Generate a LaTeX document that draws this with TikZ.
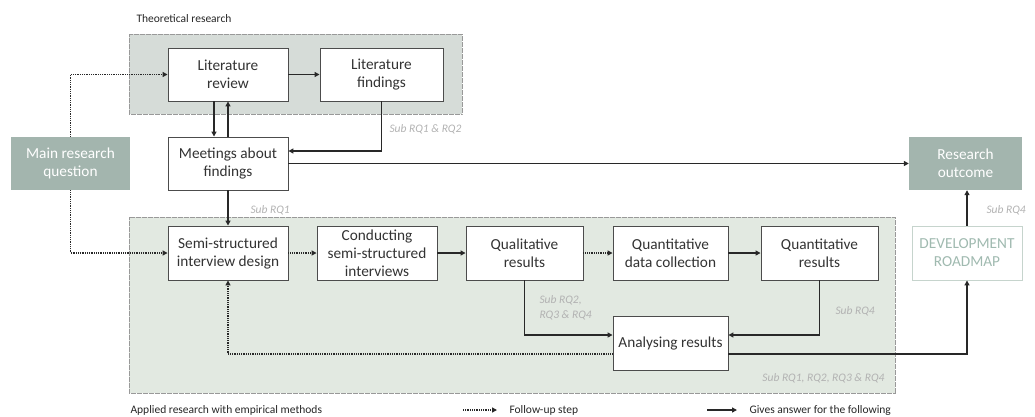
\documentclass[tikz,border=0pt]{standalone}
\usepackage{fontspec}
\setmainfont{Carlito}
\usetikzlibrary{arrows.meta,positioning}

\definecolor{theoryFill}{RGB}{214,220,216}
\definecolor{appliedFill}{RGB}{226,233,225}
\definecolor{mainFill}{RGB}{163,181,174}
\definecolor{roadLine}{RGB}{198,212,205}
\definecolor{roadText}{RGB}{160,186,176}
\definecolor{noteGray}{RGB}{178,178,178}
\definecolor{lineDark}{RGB}{40,40,40}

\begin{document}
\begin{tikzpicture}[
        x=1pt, y=-1pt,
        stepbox/.style={draw=black!70, line width=0.9pt, fill=white, align=center,
            font=\fontsize{15.3}{18}\selectfont, text=black!80, inner sep=0pt},
        mainbox/.style={fill=mainFill, align=center, text=white,
            font=\fontsize{15.3}{18}\selectfont, inner sep=0pt},
        roadbox/.style={draw=roadLine, line width=0.9pt, fill=white, align=center, text=roadText,
            font=\fontsize{15.3}{18}\selectfont, inner sep=0pt},
        region/.style={draw=black!40, dash pattern=on 0.6pt off 0.6pt, line width=0.6pt},
        note/.style={font=\fontsize{11.5}{15}\selectfont\itshape, text=noteGray, align=left},
        caption/.style={font=\fontsize{11.5}{14}\selectfont, text=black!85},
        answer/.style={draw=lineDark, line width=1.4pt, -{Triangle[length=5pt,width=5pt]}},
        follow/.style={draw=lineDark, line width=1.3pt, dash pattern=on 0.9pt off 0.9pt,
            -{Triangle[length=5pt,width=5pt]}}
    ]

    \useasboundingbox (0,0) rectangle (1035,416);

    % research areas
    \fill[theoryFill] (129,34) rectangle (462,114);
    \draw[region] (129,34) rectangle (462,114);
    \fill[appliedFill] (129,217) rectangle (895,393);
    \draw[region] (129,217) rectangle (895,393);
    \node[caption, anchor=west] (theoryCap) at (133,19) {Theoretical research};
    \node[caption, anchor=west] (appliedCap) at (127,410) {Applied research with empirical methods};

    % theoretical part
    \node[stepbox, minimum width=120pt, minimum height=53pt] (litReview) at (228,74.5) {Literature\\review};
    \node[stepbox, minimum width=123pt, minimum height=53pt] (litFind) at (381.5,74.5) {Literature\\findings};
    \node[stepbox, minimum width=120pt, minimum height=53pt] (meetings) at (228,163.5) {Meetings about\\findings};
    \node[mainbox, minimum width=119pt, minimum height=53pt] (mainRQ) at (70.5,163.5) {Main research\\question};
    \node[mainbox, minimum width=113pt, minimum height=53pt] (resOut) at (965.5,163.5) {Research\\outcome};

    % empirical part
    \node[stepbox, minimum width=120pt, minimum height=54pt] (semiDesign) at (228,253) {Semi-structured\\interview design};
    \node[stepbox, minimum width=120pt, minimum height=54pt] (conducting) at (377,253) {Conducting\\semi-structured\\interviews};
    \node[stepbox, minimum width=117pt, minimum height=54pt] (qualRes) at (524.5,253) {Qualitative\\results};
    \node[stepbox, minimum width=115pt, minimum height=54pt] (quantData) at (670.5,253) {Quantitative\\data collection};
    \node[stepbox, minimum width=117pt, minimum height=54pt] (quantRes) at (819.5,253) {Quantitative\\results};
    \node[stepbox, minimum width=115pt, minimum height=54pt] (analysing) at (670.5,343) {Analysing results};
    \node[roadbox, minimum width=110pt, minimum height=54pt] (devRoad) at (967,253) {DEVELOPMENT\\ROADMAP};

    % connectors
    \draw[follow] (mainRQ.north) |- (litReview.west);
    \draw[follow] (mainRQ.south) |- (semiDesign.west);
    \draw[answer] (litReview) -- (litFind);
    \draw[answer] ([xshift=-14pt]litReview.south) -- ([xshift=-14pt]meetings.north);
    \draw[answer] (meetings.north) -- (litReview.south);
    \draw[answer] (litFind.south) |- ([yshift=12.5pt]meetings.east);
    \draw[answer] (meetings.east) -- (resOut.west);
    \draw[answer] (meetings.south) -- (semiDesign.north);
    \draw[follow] (semiDesign) -- (conducting);
    \draw[answer] (conducting) -- (qualRes);
    \draw[follow] (qualRes) -- (quantData);
    \draw[answer] (quantData) -- (quantRes);
    \draw[answer] (qualRes.south) |- ([yshift=8pt]analysing.west);
    \draw[answer] (quantRes.south) |- ([yshift=8pt]analysing.east);
    \draw[follow] ([yshift=-11pt]analysing.west) -| (semiDesign.south);
    \draw[answer] ([yshift=-11pt]analysing.east) -| (devRoad.south);
    \draw[answer] (devRoad.north) -- (devRoad.north |- resOut.south);

    % notes
    \node[note, anchor=west] (noteLit) at (386,129) {Sub RQ1 \& RQ2};
    \node[note, anchor=west] (noteMeet) at (247,210) {Sub RQ1};
    \node[note, anchor=west] (noteRoad) at (983,210) {Sub RQ4};
    \node[note, anchor=west] (noteQual) at (536,308) {Sub RQ2,\\RQ3 \& RQ4};
    \node[note, anchor=west] (noteQuant) at (832,311) {Sub RQ4};
    \node[note, anchor=east] (noteAll) at (888,378) {Sub RQ1, RQ2, RQ3 \& RQ4};

    % legend
    \coordinate (followA) at (463,410);
    \coordinate (followB) at (497,410);
    \coordinate (answerA) at (707,410);
    \coordinate (answerB) at (737,410);
    \draw[follow] (followA) -- (followB);
    \draw[answer] (answerA) -- (answerB);
    \node[caption, anchor=west] (followCap) at (506,410) {Follow-up step};
    \node[caption, anchor=west] (answerCap) at (746,410) {Gives answer for the following};

\end{tikzpicture}
\end{document}
